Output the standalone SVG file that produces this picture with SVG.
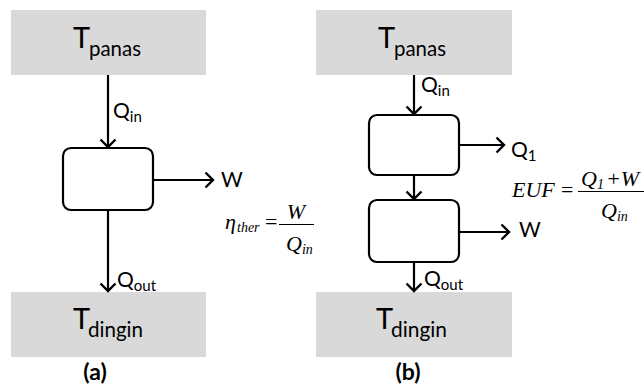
<svg xmlns="http://www.w3.org/2000/svg" width="644" height="385" viewBox="0 0 644 385">
<defs>
<marker id="chev" markerUnits="userSpaceOnUse" markerWidth="20" markerHeight="20" viewBox="-10 -10 20 20" refX="0" refY="0" orient="auto">
<path d="M-7.5,-7.5 L0,0 L-7.5,7.5" fill="none" stroke="#000" stroke-width="2.4"/>
</marker>
</defs>
<style>
.res{fill:#d9d9d9;}
.proc{fill:#fff;stroke:#000;stroke-width:2.2;}
.conn{stroke:#000;stroke-width:2.2;fill:none;marker-end:url(#chev);}
.big{font-family:Lato,"Liberation Sans",sans-serif;font-size:29px;fill:#000;}
.sub{font-family:Lato,"Liberation Sans",sans-serif;font-size:22px;fill:#000;}
.lab{font-family:Lato,"Liberation Sans",sans-serif;font-size:21px;fill:#000;}
.lsub{font-family:Lato,"Liberation Sans",sans-serif;font-size:15px;fill:#000;}
.cap{font-family:Lato,"Liberation Sans",sans-serif;font-size:23px;font-weight:bold;fill:#000;text-anchor:middle;}
.eq{font-family:"Liberation Serif",serif;font-style:italic;font-size:22px;fill:#000;}
.eqs{font-family:"Liberation Serif",serif;font-style:italic;font-size:14px;fill:#000;}
.eqn{font-family:"Liberation Serif",serif;font-size:22px;fill:#000;}
.eqns{font-family:"Liberation Serif",serif;font-size:14px;fill:#000;}
</style>
<g id="a-hot"><rect class="res" x="11" y="10" width="195" height="65"/><text class="big" x="73" y="48">T<tspan class="sub" x="89" y="56" textLength="52" lengthAdjust="spacingAndGlyphs">panas</tspan></text></g>
<g id="a-engine"><rect class="proc" x="63" y="148" width="90" height="62" rx="8"/></g>
<g id="a-cold"><rect class="res" x="11" y="292" width="195" height="65"/><text class="big" x="73" y="329">T<tspan class="sub" x="88" y="337" textLength="55" lengthAdjust="spacingAndGlyphs">dingin</tspan></text></g>
<g id="b-hot"><rect class="res" x="316" y="10" width="196" height="65"/><text class="big" x="378" y="48">T<tspan class="sub" x="394" y="56" textLength="52" lengthAdjust="spacingAndGlyphs">panas</tspan></text></g>
<g id="b-engine1"><rect class="proc" x="369" y="115" width="90" height="60" rx="8"/></g>
<g id="b-engine2"><rect class="proc" x="369" y="200" width="90" height="62" rx="8"/></g>
<g id="b-cold"><rect class="res" x="316" y="292" width="196" height="65"/><text class="big" x="376" y="329">T<tspan class="sub" x="391" y="337" textLength="56" lengthAdjust="spacingAndGlyphs">dingin</tspan></text></g>
<g id="connectors">
<line class="conn" x1="108" y1="75" x2="108" y2="147"/>
<line class="conn" x1="153" y1="180" x2="213" y2="180"/>
<line class="conn" x1="108" y1="210" x2="108" y2="291"/>
<line class="conn" x1="414" y1="75" x2="414" y2="114"/>
<line class="conn" x1="414" y1="175" x2="414" y2="199"/>
<line class="conn" x1="459" y1="145" x2="504" y2="145"/>
<line class="conn" x1="459" y1="232" x2="509" y2="232"/>
<line class="conn" x1="414" y1="262" x2="414" y2="291"/>
</g>
<g id="labels">
<text class="lab" x="113" y="118">Q<tspan class="lsub" y="122">in</tspan></text>
<text class="lab" x="221" y="187">W</text>
<text class="lab" x="117" y="287">Q<tspan class="lsub" y="291">out</tspan></text>
<text class="lab" x="421" y="92">Q<tspan class="lsub" y="96">in</tspan></text>
<text class="lab" x="511" y="157">Q<tspan class="lsub" y="161">1</tspan></text>
<text class="lab" x="519" y="237">W</text>
<text class="lab" x="424" y="286">Q<tspan class="lsub" y="290">out</tspan></text>
<text class="cap" x="95" y="380">(a)</text>
<text class="cap" x="408" y="380">(b)</text>
</g>
<g id="eq-a">
<text class="eq" x="225" y="229" font-size="24">η<tspan class="eqs" x="237" y="232">ther</tspan></text>
<text class="eqn" x="265" y="229">=</text>
<line x1="279" y1="224.5" x2="314" y2="224.5" stroke="#000" stroke-width="1"/>
<text class="eq" x="296" y="219" text-anchor="middle">W</text>
<text class="eq" x="286" y="251">Q<tspan class="eqs" y="254">in</tspan></text>
</g>
<g id="eq-b">
<text class="eq" x="512" y="197">EUF</text>
<text class="eqn" x="561" y="197">=</text>
<line x1="578" y1="191.5" x2="644" y2="191.5" stroke="#000" stroke-width="1"/>
<text class="eq" x="581" y="186">Q<tspan class="eqns" y="189">1</tspan><tspan class="eqn" dx="2" y="186">+</tspan><tspan dx="0" y="186">W</tspan></text>
<text class="eq" x="601" y="218">Q<tspan class="eqs" y="221">in</tspan></text>
</g>
</svg>
